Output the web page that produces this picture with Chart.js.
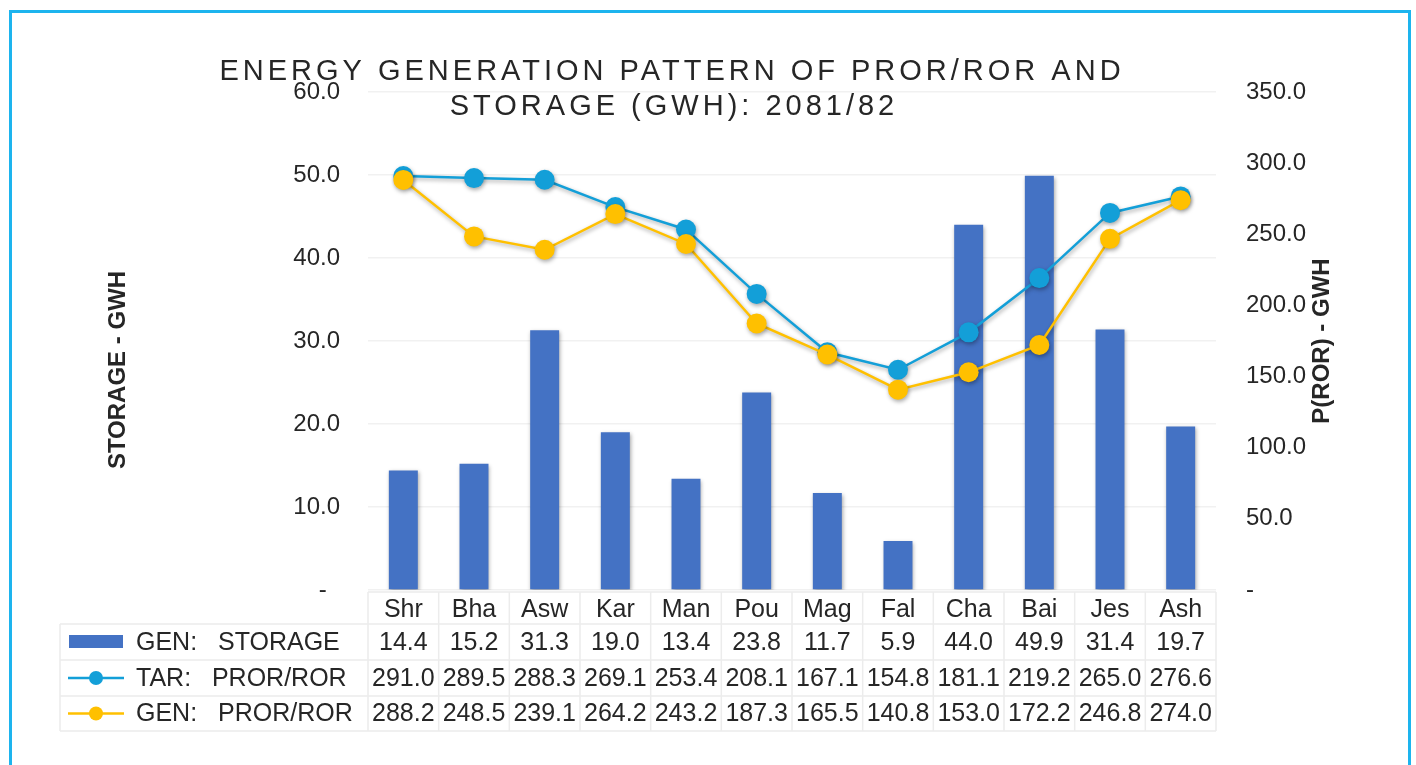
<!DOCTYPE html>
<html>
<head>
<meta charset="utf-8">
<title>Energy generation pattern</title>
<script src="https://cdn.jsdelivr.net/npm/chart.js@4.4.1/dist/chart.umd.min.js"></script>
<style>
    html, body { margin: 0; padding: 0; background: #fff; overflow: hidden; }
    #wrap { position: relative; width: 1416px; height: 765px; }
    #frame {
        position: absolute; left: 9px; top: 10px; width: 1402px; height: 800px;
        box-sizing: border-box; border: 3px solid #1db4ee; pointer-events: none;
    }
</style>
</head>
<body>
<div id="wrap">
    <canvas id="energyChart" width="1416" height="765"></canvas>
    <div id="frame"></div>
</div>
<script>
// data
const months = ['Shr', 'Bha', 'Asw', 'Kar', 'Man', 'Pou', 'Mag', 'Fal', 'Cha', 'Bai', 'Jes', 'Ash'];
const genStorage = [14.4, 15.2, 31.3, 19.0, 13.4, 23.8, 11.7, 5.9, 44.0, 49.9, 31.4, 19.7];
const tarRor = [291.0, 289.5, 288.3, 269.1, 253.4, 208.1, 167.1, 154.8, 181.1, 219.2, 265.0, 276.6];
const genRor = [288.2, 248.5, 239.1, 264.2, 243.2, 187.3, 165.5, 140.8, 153.0, 172.2, 246.8, 274.0];
const seriesNames = ['GEN:   STORAGE', 'TAR:   PROR/ROR', 'GEN:   PROR/ROR'];
const titleLines = ['ENERGY GENERATION PATTERN OF PROR/ROR AND', 'STORAGE (GWH): 2081/82'];
const leftAxisTitle = 'STORAGE - GWH';
const rightAxisTitle = 'P(ROR) - GWH';

const FONT = "'Liberation Sans', Arial, Helvetica, sans-serif";
const TEXT = '#262626';
const BAR_COLOR = '#4472c4';
const TAR_COLOR = '#139fd8';
const GEN_COLOR = '#ffc000';

Chart.defaults.font.family = FONT;
Chart.defaults.font.size = 24;
Chart.defaults.color = TEXT;

// soft drop shadow like the office chart
const shadowPlugin = {
    id: 'shadow',
    beforeDatasetDraw(chart) {
        const ctx = chart.ctx;
        ctx.save();
        ctx.shadowColor = 'rgba(0, 0, 0, 0.35)';
        ctx.shadowBlur = 4;
        ctx.shadowOffsetX = 1;
        ctx.shadowOffsetY = 2;
    },
    afterDatasetDraw(chart) {
        chart.ctx.restore();
    }
};

// title and axis titles
const textPlugin = {
    id: 'texts',
    afterDraw(chart) {
        const ctx = chart.ctx;
        ctx.save();
        ctx.fillStyle = TEXT;
        ctx.font = '29px ' + FONT;
        ctx.textAlign = 'center';
        ctx.textBaseline = 'alphabetic';
        ctx.letterSpacing = '4px';
        ctx.fillText(titleLines[0], 672, 80);
        ctx.fillText(titleLines[1], 674, 115);
        ctx.letterSpacing = '0px';

        ctx.font = 'bold 24px ' + FONT;
        ctx.textBaseline = 'middle';
        ctx.translate(118, 370);
        ctx.rotate(-Math.PI / 2);
        ctx.fillText(leftAxisTitle, 0, 0);
        ctx.restore();

        ctx.save();
        ctx.fillStyle = TEXT;
        ctx.font = 'bold 24px ' + FONT;
        ctx.textAlign = 'center';
        ctx.textBaseline = 'middle';
        ctx.translate(1322, 341);
        ctx.rotate(-Math.PI / 2);
        ctx.fillText(rightAxisTitle, 0, 0);
        ctx.restore();
    }
};

// data table under the plot, columns follow the category scale
const tablePlugin = {
    id: 'dataTable',
    afterDraw(chart) {
        const ctx = chart.ctx;
        const area = chart.chartArea;
        const xs = chart.scales.x;
        const colW = (area.right - area.left) / months.length;
        const headTop = area.bottom + 2;
        const rowTops = [624, 660, 696, 731];
        const legendLeft = 60;
        const rows = [genStorage, tarRor, genRor];

        ctx.save();
        ctx.strokeStyle = '#ececec';
        ctx.lineWidth = 1.5;
        ctx.beginPath();
        ctx.moveTo(area.left, headTop);
        ctx.lineTo(area.right, headTop);
        rowTops.forEach(y => {
            ctx.moveTo(legendLeft, y);
            ctx.lineTo(area.right, y);
        });
        for (let i = 0; i <= months.length; i++) {
            const x = area.left + i * colW;
            ctx.moveTo(x, headTop);
            ctx.lineTo(x, rowTops[3]);
        }
        ctx.moveTo(legendLeft, rowTops[0]);
        ctx.lineTo(legendLeft, rowTops[3]);
        ctx.stroke();

        ctx.fillStyle = TEXT;
        ctx.font = '25px ' + FONT;
        ctx.textBaseline = 'middle';
        rows.forEach((vals, r) => {
            const cy = (rowTops[r] + rowTops[r + 1]) / 2 + 1;
            ctx.textAlign = 'center';
            vals.forEach((v, i) => {
                ctx.fillText(v.toFixed(1), xs.getPixelForValue(i), cy);
            });
            ctx.textAlign = 'left';
            ctx.fillText(seriesNames[r], 136, cy);

            // legend keys
            const cyKey = (rowTops[r] + rowTops[r + 1]) / 2;
            if (r === 0) {
                ctx.fillStyle = BAR_COLOR;
                ctx.fillRect(69, cyKey - 7, 54, 13);
            } else {
                const col = r === 1 ? TAR_COLOR : GEN_COLOR;
                ctx.strokeStyle = col;
                ctx.lineWidth = 2.5;
                ctx.beginPath();
                ctx.moveTo(68, cyKey);
                ctx.lineTo(124, cyKey);
                ctx.stroke();
                ctx.fillStyle = col;
                ctx.beginPath();
                ctx.arc(96, cyKey, 7, 0, Math.PI * 2);
                ctx.fill();
            }
            ctx.fillStyle = TEXT;
        });
        ctx.restore();
    }
};

const ctx = document.getElementById('energyChart').getContext('2d');
new Chart(ctx, {
    data: {
        labels: months,
        datasets: [
            {
                type: 'line',
                label: seriesNames[2],
                data: genRor,
                yAxisID: 'y1',
                borderColor: GEN_COLOR,
                backgroundColor: GEN_COLOR,
                borderWidth: 2.5,
                pointRadius: 10,
                pointBorderWidth: 0,
                pointBackgroundColor: GEN_COLOR,
                tension: 0,
                order: 1
            },
            {
                type: 'line',
                label: seriesNames[1],
                data: tarRor,
                yAxisID: 'y1',
                borderColor: TAR_COLOR,
                backgroundColor: TAR_COLOR,
                borderWidth: 2.5,
                pointRadius: 10,
                pointBorderWidth: 0,
                pointBackgroundColor: TAR_COLOR,
                tension: 0,
                order: 2
            },
            {
                type: 'bar',
                label: seriesNames[0],
                data: genStorage,
                yAxisID: 'y',
                backgroundColor: BAR_COLOR,
                borderWidth: 0,
                categoryPercentage: 1,
                barPercentage: 0.41,
                order: 3
            }
        ]
    },
    options: {
        responsive: false,
        animation: false,
        layout: {
            padding: { top: 92, left: 0, right: 0, bottom: 0 }
        },
        scales: {
            x: {
                grid: { display: false, drawTicks: false },
                border: { display: false },
                ticks: { padding: 5, color: TEXT, font: { size: 25 } },
                afterFit(scale) { scale.height = 175; }
            },
            y: {
                position: 'left',
                min: 0,
                max: 60,
                grid: { color: '#f1f1f1', lineWidth: 1.5, drawTicks: false },
                border: { display: false },
                ticks: {
                    stepSize: 10,
                    padding: 28,
                    color: TEXT,
                    callback: v => v === 0 ? '-  ' : v.toFixed(1)
                },
                afterFit(scale) { scale.width = 368; }
            },
            y1: {
                position: 'right',
                min: 0,
                max: 350,
                grid: { display: false, drawTicks: false },
                border: { display: false },
                ticks: {
                    stepSize: 50,
                    padding: 30,
                    color: TEXT,
                    callback: v => v === 0 ? '-' : v.toFixed(1)
                },
                afterFit(scale) { scale.width = 200; }
            }
        },
        plugins: {
            legend: { display: false },
            tooltip: { enabled: false },
            title: { display: false }
        }
    },
    plugins: [shadowPlugin, textPlugin, tablePlugin]
});
</script>
</body>
</html>
